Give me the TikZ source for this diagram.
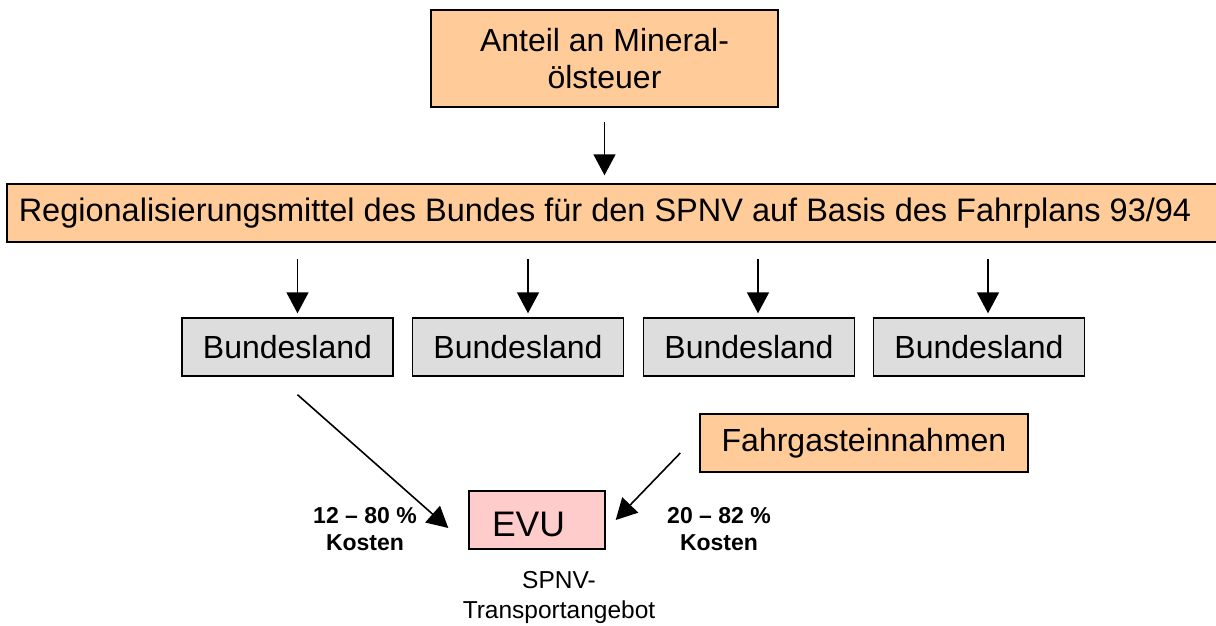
\documentclass[tikz,border=0pt]{standalone}
\usepackage{fontspec}
\setmainfont{Liberation Sans}
\usetikzlibrary{arrows.meta}
\definecolor{orangefill}{HTML}{FFCC99}
\definecolor{grayfill}{HTML}{DDDDDD}
\definecolor{pinkfill}{HTML}{FFCCCC}
\tikzset{
  box/.style={draw=black, line width=1.4pt, inner sep=0pt, align=center,
    font=\fontsize{32}{37}\selectfont},
  obox/.style={box, fill=orangefill},
  gbox/.style={box, fill=grayfill, minimum width=211pt, minimum height=58pt},
  pbox/.style={box, fill=pinkfill, font=\fontsize{35.5}{40}\selectfont},
  arr/.style={line width=1.6pt, -{Triangle[width=22pt,length=21pt]}},
  costlbl/.style={align=center, inner sep=0pt, font=\fontsize{23}{27}\selectfont\bfseries},
  plainlbl/.style={align=center, inner sep=0pt, font=\fontsize{24.5}{30}\selectfont}
}
\begin{document}
\begin{tikzpicture}[x=1pt,y=-1pt]
\useasboundingbox (0,0) rectangle (1216,625);
\node[obox, minimum width=347pt, minimum height=97pt] (top) at (604.5,58.5) {Anteil an Mineral-\\ölsteuer};
\node[obox, minimum width=1211pt, minimum height=58pt, font=\fontsize{32.5}{37}\selectfont] (reg) at (612.5,213) {Regionalisierungsmittel des Bundes für den SPNV auf Basis des Fahrplans 93/94\hspace*{15pt}};
\node[gbox] (b1) at (287.5,347) {Bundesland};
\node[gbox] (b2) at (518,347) {Bundesland};
\node[gbox] (b3) at (749,347) {Bundesland};
\node[gbox] (b4) at (979,347) {Bundesland};
\node[obox, minimum width=328pt, minimum height=58pt] (fg) at (864,443) {Fahrgasteinnahmen};
\node[pbox, minimum width=136pt, minimum height=58pt] (evu) at (537,520) {\raisebox{-4pt}[\height][\depth]{EVU}\hspace*{17pt}};
\node[costlbl] (l1) at (365,529) {12 – 80 \%\\Kosten};
\node[costlbl] (l2) at (719,529) {20 – 82 \%\\Kosten};
\node[plainlbl] (spnv) at (559,597) {SPNV-\\Transportangebot};

\draw[arr] ([xshift=0pt,yshift=-14pt]top.south) -- ([xshift=-8pt,yshift=8pt]reg.north);
\draw[arr] ([xshift=10pt,yshift=58pt]b1.north) -- ([xshift=10pt,yshift=4pt]b1.north);
\draw[arr] ([xshift=10pt,yshift=58pt]b2.north) -- ([xshift=10pt,yshift=4pt]b2.north);
\draw[arr] ([xshift=9pt,yshift=58pt]b3.north) -- ([xshift=9pt,yshift=4pt]b3.north);
\draw[arr] ([xshift=9pt,yshift=58pt]b4.north) -- ([xshift=9pt,yshift=4pt]b4.north);
\draw[arr] ([xshift=10pt,yshift=-18pt]b1.south) -- ([xshift=-20pt,yshift=-8pt]evu.west);
\draw[arr] ([xshift=-19pt,yshift=-10pt]fg.west) -- ([xshift=10pt]evu.east);
\end{tikzpicture}
\end{document}
